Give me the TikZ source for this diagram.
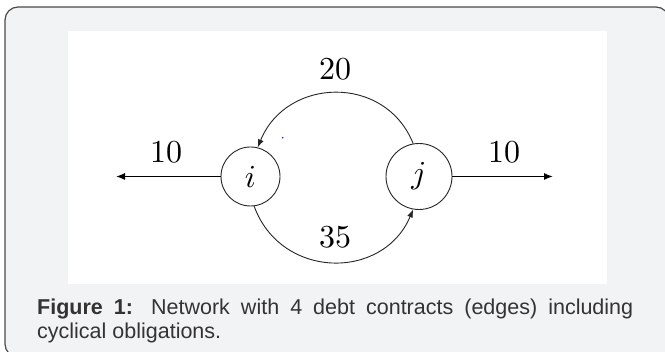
\documentclass[tikz,border=0pt]{standalone}
\usepackage{graphicx}
\usepackage{fontspec}
\newfontfamily\capfont{Liberation Sans}
\newfontfamily\labfont{lmroman10-regular.otf}
\usetikzlibrary{arrows.meta}
\definecolor{framebg}{HTML}{F2F3F5}
\definecolor{frameline}{HTML}{4A4A4A}
\definecolor{captext}{HTML}{333333}
\definecolor{speck}{HTML}{2A2AE0}
\begin{document}
\begin{tikzpicture}[x=1pt,y=1pt,
  vertex/.style={circle, draw=black!85, line width=0.9pt, inner sep=0pt},
  edgelabel/.style={font=\labfont\fontsize{32}{38}\selectfont, inner sep=0pt, anchor=base},
  flow/.style={line width=0.9pt, draw=black!85, -{Latex[length=8pt,width=6pt]}},
  outflow/.style={line width=1.3pt, -{Latex[length=9pt,width=7pt]}}]
\useasboundingbox (0,0) rectangle (665,352);
\clip (0,0) rectangle (665,352);
% outer frame and white panel
\draw[frameline, fill=framebg, line width=1.2pt, rounded corners=13pt] (5,345) rectangle (669,-5);
\fill[white] (68,321) rectangle (607,68);
% vertices
\node[vertex, minimum size=59pt] (i) at (250.5,175.5) {\scalebox{3.2}{$i$}};
\node[vertex, minimum size=66pt] (j) at (419,175.5) {\scalebox{3.2}{$j$}};
\coordinate (lend) at (116,175.5);
\coordinate (rend) at (553,175.5);
% edges
\draw[flow] (j.100) to[out=112, in=68, looseness=1.24] (i.76);
\draw[flow] (i.-83) to[out=290, in=247, looseness=1.25] (j.-100);
\draw[outflow] (i.west) -- (lend);
\draw[outflow] (j.east) -- (rend);
% labels
\node[edgelabel] (l20) at (335,272.7) {20};
\node[edgelabel] (l35) at (335,104.7) {35};
\node[edgelabel] (l10a) at (166,189.5) {10};
\node[edgelabel] (l10b) at (504,189.5) {10};
\fill[speck] (282.7,214.3) circle (0.9pt);
% caption
\node[anchor=base west, inner sep=0pt, text=captext] (caption) at (37,37)
  {\parbox[t]{596pt}{\capfont\fontsize{21.5}{23.3}\selectfont
   \makebox[596pt][s]{\textbf{Figure 1:} Network with 4 debt contracts (edges) including}\\
   cyclical obligations.}};
\end{tikzpicture}
\end{document}
